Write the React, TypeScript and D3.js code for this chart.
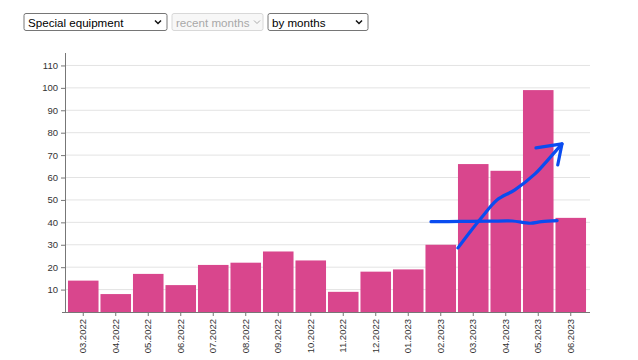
import { useEffect, useRef } from "react";
import * as d3 from "d3";

const MONTHS = [
  "03.2022", "04.2022", "05.2022", "06.2022", "07.2022", "08.2022", "09.2022", "10.2022",
  "11.2022", "12.2022", "01.2023", "02.2023", "03.2023", "04.2023", "05.2023", "06.2023",
];
const COUNTS = [14, 8, 17, 12, 21, 22, 27, 23, 9, 18, 19, 30, 66, 63, 99, 42];
const Y_TICKS = [10, 20, 30, 40, 50, 60, 70, 80, 90, 100, 110];

const SELECT_LABELS = ["Special equipment", "recent months", "by months"];
const SELECT_DISABLED = [false, true, false];

// hand-drawn annotation, in data space: [month index (fractional), value]
const FLAT_LINE: [number, number][] = [
  [10.7, 40.3], [11.6, 40.4], [12.5, 40.5], [13.2, 40.6], [13.75, 39.6], [14.1, 40.3], [14.58, 40.8],
];
const TREND_LINE: [number, number][] = [
  [11.53, 28.6], [11.9, 35.7], [12.27, 42.4], [12.73, 50], [13.28, 54.5],
  [13.9, 61.6], [14.3, 67.9], [14.73, 75],
];
const ARROW_HEAD: [number, number][] = [[13.93, 73.2], [14.73, 75], [14.6, 65.6]];

const W = 638;
const H = 360;

export default function App() {
  const svgRef = useRef<SVGSVGElement>(null);

  useEffect(() => {
    if (!svgRef.current) return;
    const svg = d3.select(svgRef.current);
    svg.selectAll("*").remove();

    // --- dropdowns
    const selX = [24, 172, 268];
    const selW = [143, 91, 100];
    const sel = svg.append("g");
    SELECT_LABELS.forEach((label, i) => {
      const dis = SELECT_DISABLED[i];
      const g = sel.append("g").attr("transform", `translate(${selX[i]},13.5)`);
      g.append("rect")
        .attr("width", selW[i])
        .attr("height", 17)
        .attr("rx", 2)
        .attr("fill", dis ? "#f7f7f7" : "#fff")
        .attr("stroke", dis ? "#d8d8d8" : "#767676");
      g.append("text")
        .attr("x", 4)
        .attr("y", 13)
        .attr("font-family", "Liberation Sans, Arial, sans-serif")
        .attr("font-size", 11.6)
        .attr("fill", dis ? "#a8a8a8" : "#000")
        .text(label);
      const cx = selW[i] - (dis ? 6 : 9);
      g.append("path")
        .attr("d", `M${cx - 3},7 L${cx},10 L${cx + 3},7`)
        .attr("fill", "none")
        .attr("stroke", dis ? "#aaa" : "#111")
        .attr("stroke-width", dis ? 1 : 1.5);
    });

    // --- chart
    const x = d3.scaleBand().domain(MONTHS).range([67, 587]).paddingInner(0.06).paddingOuter(0.03);
    const y = d3.scaleLinear().domain([0, 116]).range([312, 52]);
    const right = 590;

    const grid = svg.append("g");
    grid.selectAll("line")
      .data(Y_TICKS)
      .enter()
      .append("line")
      .attr("x1", 65)
      .attr("x2", right)
      .attr("y1", (d) => y(d))
      .attr("y2", (d) => y(d))
      .attr("stroke", "#e3e3e3");

    svg.append("g")
      .selectAll("rect")
      .data(COUNTS)
      .enter()
      .append("rect")
      .attr("x", (_, i) => x(MONTHS[i]) ?? 0)
      .attr("y", (d) => y(d))
      .attr("width", x.bandwidth())
      .attr("height", (d) => y(0) - y(d))
      .attr("fill", "#d9468d");

    // y axis
    const yAx = svg.append("g")
      .attr("transform", "translate(65,0)")
      .call(d3.axisLeft(y).tickValues(Y_TICKS).tickSize(4).tickSizeOuter(0));
    yAx.select(".domain").remove();
    yAx.selectAll("line").attr("stroke", "#777");
    yAx.selectAll("text")
      .attr("fill", "#333")
      .attr("font-family", "Liberation Sans, Arial, sans-serif")
      .attr("font-size", 9.5);
    svg.append("line")
      .attr("x1", 65.5).attr("x2", 65.5)
      .attr("y1", 53).attr("y2", 312.5)
      .attr("stroke", "#777");

    // x axis
    const xAx = svg.append("g")
      .attr("transform", "translate(0,312)")
      .call(d3.axisBottom(x).tickSize(4).tickSizeOuter(0));
    xAx.select(".domain").remove();
    xAx.selectAll("line").attr("stroke", "#777");
    xAx.selectAll("text")
      .attr("fill", "#333")
      .attr("font-family", "Liberation Sans, Arial, sans-serif")
      .attr("font-size", 9.5)
      .attr("transform", "rotate(-90)")
      .attr("text-anchor", "end")
      .attr("x", -7)
      .attr("y", 0)
      .attr("dy", "0.32em");
    svg.append("line")
      .attr("x1", 62).attr("x2", right)
      .attr("y1", 312.5).attr("y2", 312.5)
      .attr("stroke", "#777");

    // --- hand-drawn annotation
    const c0 = (x(MONTHS[0]) ?? 0) + x.bandwidth() / 2;
    const px = (i: number) => c0 + i * x.step();
    const line = d3.line<[number, number]>()
      .x((d) => px(d[0]))
      .y((d) => y(d[1]))
      .curve(d3.curveCatmullRom);
    const ann = svg.append("g")
      .attr("fill", "none")
      .attr("stroke", "#0a4cf0")
      .attr("stroke-width", 3.2)
      .attr("stroke-linecap", "round")
      .attr("stroke-linejoin", "round");
    ann.append("path").attr("d", line(FLAT_LINE));
    ann.append("path").attr("d", line(TREND_LINE));
    ann.append("path").attr("d", line.curve(d3.curveLinear)(ARROW_HEAD));
  }, []);

  return (
    <div style={{ position: "fixed", left: 0, top: 0, width: W, height: H, background: "#fff" }}>
      <svg ref={svgRef} width={W} height={H} />
    </div>
  );
}
